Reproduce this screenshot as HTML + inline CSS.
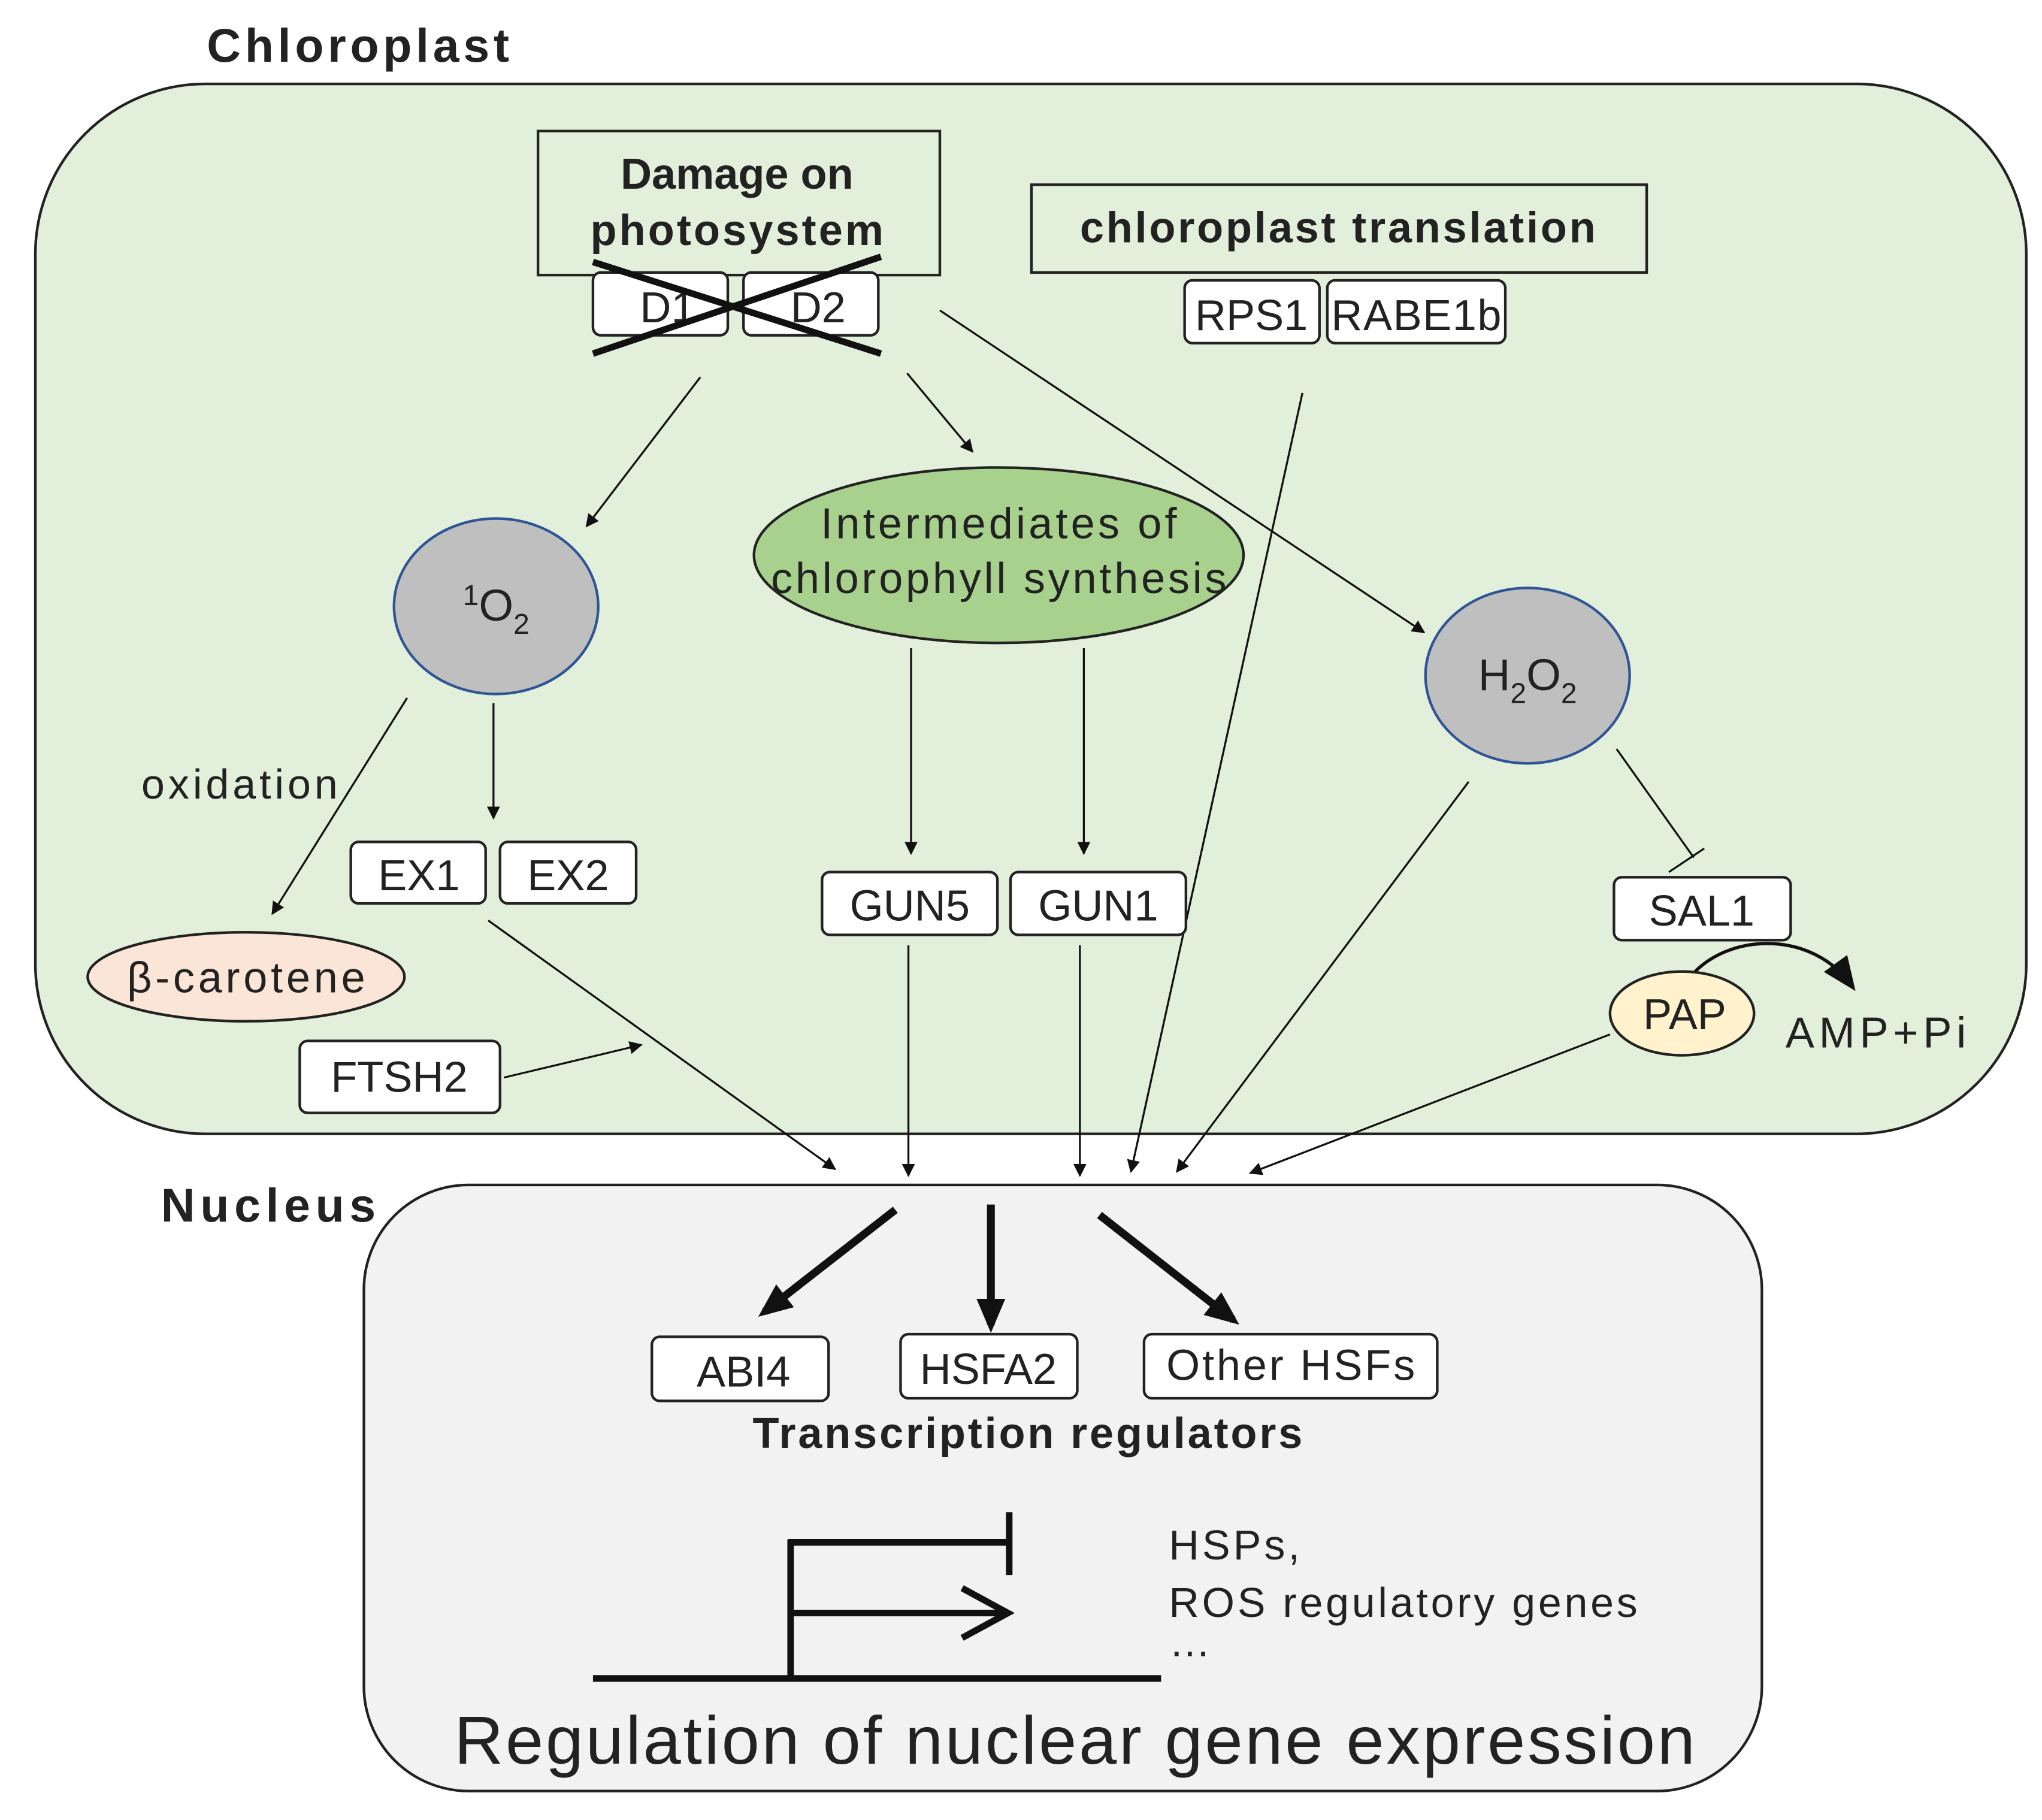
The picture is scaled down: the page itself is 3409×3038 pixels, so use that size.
<!DOCTYPE html>
<html><head><meta charset="utf-8"><style>
html,body{margin:0;padding:0;background:#fff;}
svg{display:block;}
text{font-family:"Liberation Sans","DejaVu Sans",sans-serif;fill:#222;}
</style></head><body>
<svg width="3409" height="3038" viewBox="0 0 1560 1390" xmlns="http://www.w3.org/2000/svg">
<defs>
<marker id="a" markerWidth="10" markerHeight="10" refX="9" refY="5" orient="auto" markerUnits="userSpaceOnUse" viewBox="0 0 10 10"><path d="M0,0 L10,5 L0,10 z" fill="#111"/></marker>
<marker id="b" markerWidth="26" markerHeight="26" refX="20" refY="13" orient="auto" markerUnits="userSpaceOnUse" viewBox="0 0 26 26"><path d="M0,2 L26,13 L0,24 z" fill="#111"/></marker>
</defs>
<text x="158" y="47" font-size="36" font-weight="bold" textLength="231">Chloroplast</text>
<rect x="27" y="64" width="1521" height="802" rx="130" fill="#e2efda" stroke="#222" stroke-width="2"/>
<text x="123" y="933" font-size="36" font-weight="bold" textLength="164">Nucleus</text>
<rect x="278" y="905" width="1068" height="463" rx="80" fill="#f2f2f2" stroke="#222" stroke-width="2"/>

<rect x="411" y="100" width="307" height="110" fill="none" stroke="#222" stroke-width="2"/>
<text x="563" y="144" font-size="33" font-weight="bold" text-anchor="middle">Damage on</text>
<text x="563" y="187" font-size="33" font-weight="bold" text-anchor="middle" textLength="224">photosystem</text>
<rect x="453" y="208" width="103" height="48" rx="6" fill="#fff" stroke="#222" stroke-width="2"/>
<rect x="568" y="208" width="103" height="48" rx="6" fill="#fff" stroke="#222" stroke-width="2"/>
<text x="510" y="246" font-size="33" text-anchor="middle">D1</text>
<text x="625" y="246" font-size="33" text-anchor="middle">D2</text>
<line x1="453" y1="200" x2="673" y2="270" stroke="#111" stroke-width="5"/>
<line x1="453" y1="270" x2="673" y2="196" stroke="#111" stroke-width="5"/>

<rect x="788" y="141" width="470" height="67" fill="none" stroke="#222" stroke-width="2"/>
<text x="1022" y="185" font-size="33" font-weight="bold" text-anchor="middle" textLength="394">chloroplast translation</text>
<rect x="905" y="214" width="103" height="48" rx="6" fill="#fff" stroke="#222" stroke-width="2"/>
<rect x="1014" y="214" width="136" height="48" rx="6" fill="#fff" stroke="#222" stroke-width="2"/>
<text x="956" y="252" font-size="33" text-anchor="middle">RPS1</text>
<text x="1082" y="252" font-size="33" text-anchor="middle" textLength="130">RABE1b</text>

<g stroke="#111" stroke-width="1.5" fill="none" marker-end="url(#a)">
<line x1="535" y1="288" x2="448" y2="402"/>
<line x1="693" y1="285" x2="743" y2="345"/>
<line x1="718" y1="237" x2="1088" y2="483"/>
<line x1="995" y1="300" x2="864" y2="895"/>
<line x1="311" y1="533" x2="208" y2="698"/>
<line x1="377" y1="537" x2="377" y2="625"/>
<line x1="385" y1="823" x2="490" y2="798"/>
<line x1="373" y1="703" x2="638" y2="893"/>
<line x1="696" y1="495" x2="696" y2="652"/>
<line x1="828" y1="495" x2="828" y2="652"/>
<line x1="694" y1="722" x2="694" y2="898"/>
<line x1="825" y1="722" x2="825" y2="898"/>
<line x1="1122" y1="597" x2="899" y2="895"/>
<line x1="1230" y1="790" x2="955" y2="896"/>
</g>

<ellipse cx="379" cy="463" rx="78" ry="67" fill="#bfbfbf" stroke="#2f5597" stroke-width="2"/>
<text x="379" y="474" font-size="34" text-anchor="middle"><tspan font-size="22" dy="-12">1</tspan><tspan dy="12">O</tspan><tspan font-size="22" dy="10">2</tspan></text>
<ellipse cx="763" cy="424" rx="187" ry="67" fill="#a9d18e" stroke="#222" stroke-width="2"/>
<text x="763" y="411" font-size="33" text-anchor="middle" textLength="272">Intermediates of</text>
<text x="763" y="453" font-size="33" text-anchor="middle" textLength="348">chlorophyll synthesis</text>
<ellipse cx="1167" cy="516" rx="78" ry="67" fill="#bfbfbf" stroke="#2f5597" stroke-width="2"/>
<text x="1167" y="527" font-size="34" text-anchor="middle">H<tspan font-size="22" dy="10">2</tspan><tspan dy="-10">O</tspan><tspan font-size="22" dy="10">2</tspan></text>

<text x="108" y="610" font-size="32" textLength="150">oxidation</text>
<rect x="268" y="643" width="103" height="47" rx="6" fill="#fff" stroke="#222" stroke-width="2"/>
<rect x="382" y="643" width="104" height="47" rx="6" fill="#fff" stroke="#222" stroke-width="2"/>
<text x="320" y="680" font-size="33" text-anchor="middle">EX1</text>
<text x="434" y="680" font-size="33" text-anchor="middle">EX2</text>
<ellipse cx="188" cy="746" rx="121" ry="34" fill="#fbe5d6" stroke="#222" stroke-width="2"/>
<text x="188" y="758" font-size="33" text-anchor="middle" textLength="182">β-carotene</text>
<rect x="229" y="795" width="153" height="55" rx="6" fill="#fff" stroke="#222" stroke-width="2"/>
<text x="305" y="834" font-size="33" text-anchor="middle">FTSH2</text>

<rect x="628" y="666" width="134" height="48" rx="6" fill="#fff" stroke="#222" stroke-width="2"/>
<rect x="772" y="666" width="134" height="48" rx="6" fill="#fff" stroke="#222" stroke-width="2"/>
<text x="695" y="703" font-size="33" text-anchor="middle">GUN5</text>
<text x="839" y="703" font-size="33" text-anchor="middle">GUN1</text>

<line x1="1235" y1="572" x2="1294" y2="655" stroke="#111" stroke-width="1.5"/>
<line x1="1275" y1="666" x2="1302" y2="648" stroke="#111" stroke-width="1.5"/>
<rect x="1233" y="670" width="135" height="48" rx="6" fill="#fff" stroke="#222" stroke-width="2"/>
<text x="1300" y="707" font-size="33" text-anchor="middle">SAL1</text>
<ellipse cx="1285" cy="774" rx="55" ry="32" fill="#fff2cc" stroke="#222" stroke-width="2"/>
<text x="1287" y="786" font-size="33" text-anchor="middle">PAP</text>
<path d="M1295,742 C1325,712 1385,712 1414,752" fill="none" stroke="#111" stroke-width="2.5" marker-end="url(#b)"/>
<text x="1364" y="800" font-size="33" textLength="138">AMP+Pi</text>

<g stroke="#111" stroke-width="6" fill="none" marker-end="url(#b)">
<line x1="684" y1="924" x2="584" y2="1002"/>
<line x1="757" y1="920" x2="757" y2="1012"/>
<line x1="840" y1="928" x2="942" y2="1008"/>
</g>

<rect x="498" y="1021" width="135" height="49" rx="6" fill="#fff" stroke="#222" stroke-width="2"/>
<rect x="688" y="1019" width="135" height="49" rx="6" fill="#fff" stroke="#222" stroke-width="2"/>
<rect x="874" y="1019" width="224" height="49" rx="6" fill="#fff" stroke="#222" stroke-width="2"/>
<text x="568" y="1059" font-size="33" text-anchor="middle">ABI4</text>
<text x="755" y="1057" font-size="33" text-anchor="middle">HSFA2</text>
<text x="986" y="1054" font-size="33" text-anchor="middle" textLength="190">Other HSFs</text>
<text x="785" y="1106" font-size="33" font-weight="bold" text-anchor="middle" textLength="420">Transcription regulators</text>

<g stroke="#111" stroke-width="5" fill="none">
<line x1="453" y1="1282" x2="887" y2="1282"/>
<line x1="604" y1="1284" x2="604" y2="1176"/>
<line x1="602" y1="1178" x2="771" y2="1178"/>
<line x1="771" y1="1155" x2="771" y2="1203"/>
<line x1="604" y1="1232" x2="768" y2="1232"/>
<polyline points="735,1213 770,1232 735,1251"/>
</g>
<text x="893" y="1191" font-size="32" textLength="100">HSPs,</text>
<text x="893" y="1235" font-size="32" textLength="358">ROS regulatory genes</text>
<text x="893" y="1265" font-size="32">…</text>
<text x="821" y="1347" font-size="52" text-anchor="middle" textLength="948">Regulation of nuclear gene expression</text>
</svg>
</body></html>
